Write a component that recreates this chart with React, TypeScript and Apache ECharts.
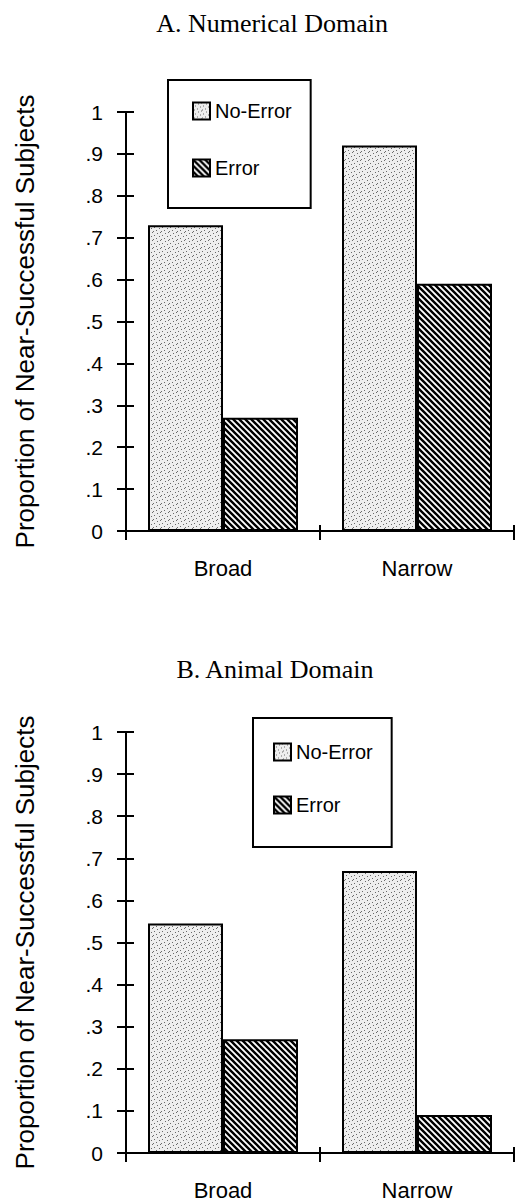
import React, { useEffect, useRef } from 'react';
import * as echarts from 'echarts';

const categories = ['Broad', 'Narrow'];
const seriesNames = ['No-Error', 'Error'];
const numericalNoError = [0.73, 0.92];
const numericalError = [0.27, 0.59];
const animalNoError = [0.545, 0.67];
const animalError = [0.27, 0.09];
const yTickLabels = ['0', '.1', '.2', '.3', '.4', '.5', '.6', '.7', '.8', '.9', '1'];
const panelTitles = ['A. Numerical Domain', 'B. Animal Domain'];
const yAxisTitle = 'Proportion of Near-Successful Subjects';

const SANS = "'Liberation Sans', Arial, sans-serif";
const SERIF = "'Liberation Serif', 'Times New Roman', serif";

function makeHatch(): HTMLCanvasElement {
  const s = 6;
  const c = document.createElement('canvas');
  c.width = s;
  c.height = s;
  const ctx = c.getContext('2d')!;
  ctx.fillStyle = '#ffffff';
  ctx.fillRect(0, 0, s, s);
  ctx.strokeStyle = '#000000';
  ctx.lineWidth = 2.4;
  ctx.beginPath();
  for (const k of [-s, 0, s]) {
    ctx.moveTo(-2, -2 + k);
    ctx.lineTo(s + 2, s + 2 + k);
  }
  ctx.stroke();
  return c;
}

function makeStipple(): HTMLCanvasElement {
  const s = 8;
  const c = document.createElement('canvas');
  c.width = s;
  c.height = s;
  const ctx = c.getContext('2d')!;
  ctx.fillStyle = '#eeeeee';
  ctx.fillRect(0, 0, s, s);
  ctx.fillStyle = '#6a6a6a';
  const dots = [[0, 0], [5, 1], [2, 3], [7, 4], [4, 6], [1, 7]];
  for (const [x, y] of dots) ctx.fillRect(x, y, 1, 1);
  return c;
}

export default function App() {
  const ref = useRef<HTMLDivElement>(null);

  useEffect(() => {
    document.body.style.margin = '0';
    if (!ref.current) return;
    const chart = echarts.init(ref.current, undefined, { renderer: 'svg' });

    const hatch = { image: makeHatch(), repeat: 'repeat' } as any;
    const stipple = { image: makeStipple(), repeat: 'repeat' } as any;

    const grids = [
      { left: 126, top: 112, width: 388, height: 419 },
      { left: 126, top: 732, width: 388, height: 421 },
    ];

    const xAxes: any[] = [];
    const yAxes: any[] = [];
    grids.forEach((_, gi) => {
      xAxes.push({
        type: 'category',
        gridIndex: gi,
        position: 'bottom',
        data: categories,
        axisLine: { show: true, lineStyle: { color: '#000', width: 2 } },
        axisTick: { show: true, interval: 0, length: 9, lineStyle: { color: '#000', width: 2 } },
        axisLabel: { show: true, color: '#000', fontSize: 22, fontFamily: SANS, margin: 26 },
        splitLine: { show: false },
      });
      xAxes.push({
        type: 'category',
        gridIndex: gi,
        position: 'bottom',
        data: categories,
        axisLine: { show: false },
        axisTick: { show: true, inside: true, interval: 0, length: 6, lineStyle: { color: '#000', width: 2 } },
        axisLabel: { show: false },
        splitLine: { show: false },
      });
      yAxes.push({
        type: 'value',
        gridIndex: gi,
        position: 'left',
        min: 0,
        max: 1,
        interval: 0.1,
        name: yAxisTitle,
        nameLocation: 'middle',
        nameGap: 88,
        nameRotate: 90,
        nameTextStyle: { color: '#000', fontSize: 26, fontFamily: SANS },
        axisLine: { show: true, lineStyle: { color: '#000', width: 2 } },
        axisTick: { show: true, length: 9, lineStyle: { color: '#000', width: 2 } },
        axisLabel: {
          show: true,
          color: '#000',
          fontSize: 21,
          fontFamily: SANS,
          margin: 23,
          formatter: (v: number) => yTickLabels[Math.round(v * 10)],
        },
        splitLine: { show: false },
      });
      yAxes.push({
        type: 'value',
        gridIndex: gi,
        position: 'left',
        min: 0,
        max: 1,
        interval: 0.1,
        axisLine: { show: false },
        axisTick: { show: true, inside: true, length: 8, lineStyle: { color: '#000', width: 2 } },
        axisLabel: { show: false },
        splitLine: { show: false },
      });
    });

    const mkSeries = (name: string, data: number[], gi: number, fill: any) => ({
      type: 'bar',
      name,
      xAxisIndex: gi * 2,
      yAxisIndex: gi * 2,
      data,
      barWidth: 75,
      barGap: '0%',
      itemStyle: { color: fill, borderColor: '#000', borderWidth: 2 },
      emphasis: { disabled: true },
    });

    const legendCommon = {
      orient: 'vertical',
      data: seriesNames.map((n) => ({ name: n, icon: 'rect' })),
      icon: 'rect',
      borderColor: '#000',
      borderWidth: 2,
      itemWidth: 17,
      itemHeight: 17,
      itemGap: 37,
      selectedMode: false,
      textStyle: { color: '#000', fontSize: 20, fontFamily: SANS },
      itemStyle: { borderColor: '#000', borderWidth: 2 },
    };

    chart.setOption({
      animation: false,
      backgroundColor: '#fff',
      grid: grids,
      xAxis: xAxes,
      yAxis: yAxes,
      legend: [
        { ...legendCommon, left: 168, top: 80, padding: [21, 19, 30, 24], itemGap: 37 },
        { ...legendCommon, left: 253, top: 718, padding: [24, 19, 32, 20], itemGap: 33 },
      ],
      graphic: [
        {
          type: 'text',
          x: 272,
          y: 23,
          style: { text: panelTitles[0], font: `26px ${SERIF}`, fill: '#000', textAlign: 'center', textVerticalAlign: 'middle' },
        },
        {
          type: 'text',
          x: 275,
          y: 669,
          style: { text: panelTitles[1], font: `26px ${SERIF}`, fill: '#000', textAlign: 'center', textVerticalAlign: 'middle' },
        },
      ],
      series: [
        mkSeries(seriesNames[0], numericalNoError, 0, stipple),
        mkSeries(seriesNames[1], numericalError, 0, hatch),
        mkSeries(seriesNames[0], animalNoError, 1, stipple),
        mkSeries(seriesNames[1], animalError, 1, hatch),
      ],
    });

    return () => chart.dispose();
  }, []);

  return <div ref={ref} style={{ width: 518, height: 1203 }} />;
}
